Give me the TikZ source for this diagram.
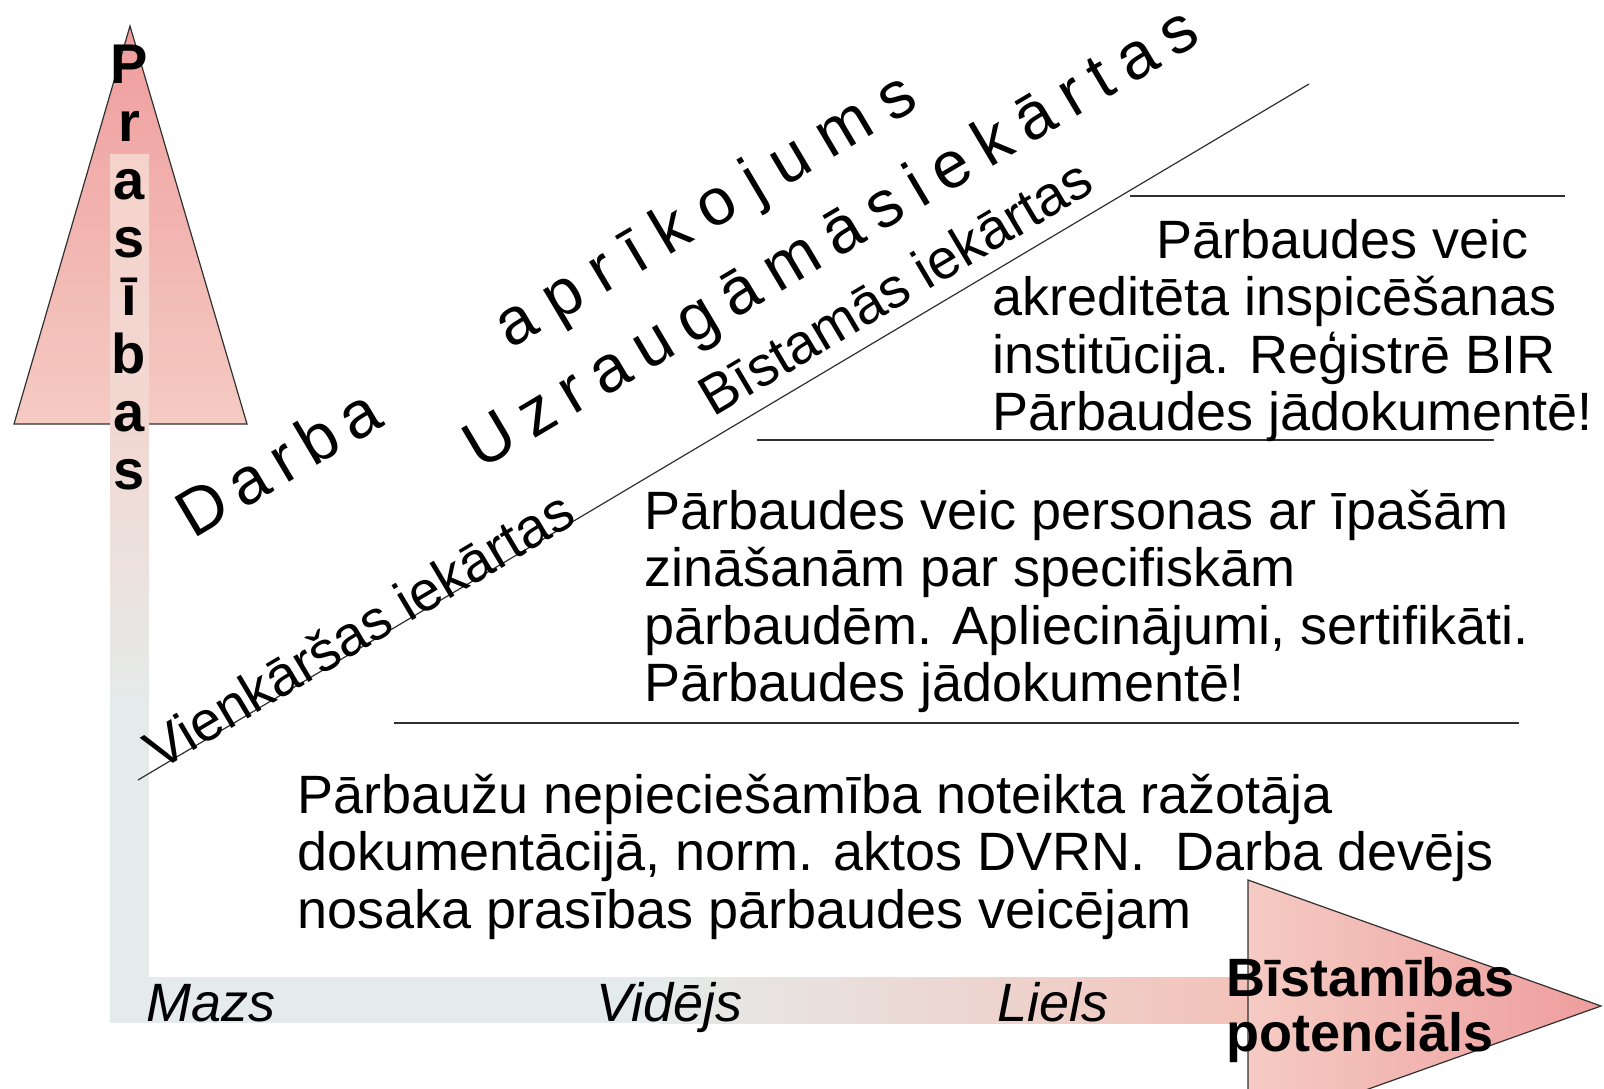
\documentclass[tikz,border=0pt]{standalone}
\usepackage{fontspec}
\setmainfont{Liberation Sans}
\newfontfamily\spacedA[LetterSpace=17]{Liberation Sans}
\newfontfamily\spacedB[LetterSpace=26]{Liberation Sans}
\newfontfamily\spacedC[LetterSpace=21]{Liberation Sans}
\definecolor{pkdark}{HTML}{EE9D9D}
\definecolor{pklight}{HTML}{F5CBC3}
\definecolor{pkbar}{HTML}{F5D3CB}
\definecolor{pkmid}{HTML}{F2D8D2}
\definecolor{greyl}{HTML}{E5EBEA}
\definecolor{pkend}{HTML}{F3C2B9}
\definecolor{edge}{HTML}{303030}
\begin{document}
\begin{tikzpicture}[x=1pt,y=-1pt,
  body/.style={font=\fontsize{54}{57}\selectfont, inner sep=0pt, anchor=base west},
  ital/.style={font=\fontsize{54}{57}\selectfont\itshape, inner sep=0pt, anchor=base west},
  boldt/.style={font=\fontsize{54}{57}\selectfont\bfseries, inner sep=0pt, anchor=base west},
  prasl/.style={font=\fontsize{56}{58}\selectfont\bfseries, inner sep=0pt, anchor=base},
  bigA/.style={font=\spacedA\fontsize{66}{70}\selectfont, inner sep=0pt, anchor=base, rotate=30.7},
  bigB/.style={font=\spacedB\fontsize{66}{70}\selectfont, inner sep=0pt, anchor=base, rotate=30.7},
  bigC/.style={font=\spacedC\fontsize{66}{70}\selectfont, inner sep=0pt, anchor=base, rotate=30.7},
  slant/.style={font=\fontsize{56}{60}\selectfont, inner sep=0pt, anchor=base, rotate=30.7},
  rule/.style={draw=edge, line width=1.6pt},
  outline/.style={draw=edge, line width=1.2pt}]
\useasboundingbox (0,0) rectangle (1604,1089);

% upward arrow head
\shadedraw[outline, top color=pkdark, bottom color=pklight] (130,26) -- (247,424) -- (14,424) -- cycle;
% vertical bar
\shade[top color=pkbar, bottom color=pkmid] (110,155) rectangle (149,430);
\shade[top color=pkmid, bottom color=greyl] (110,430) rectangle (149,700);
\fill[greyl] (110,700) rectangle (149,1023);
% horizontal bar
\fill[greyl] (110,977) rectangle (660,1023);
\shade[left color=greyl, right color=pkend] (660,977) rectangle (1249,1023);
% right arrow head
\shadedraw[outline, left color=pklight, right color=pkdark] (1248,880) -- (1601,1006) -- (1248,1132) -- cycle;

% Prasības
\foreach \ch [count=\i] in {P,r,a,s,ī,b,a,s}
  \node[prasl] (pr\i) at (129,{84+57.9*(\i-1)}) {\ch};

% diagonal
\coordinate (d1) at (138,780);
\coordinate (d2) at (1309,84);
\draw[edge, line width=1.2pt] (d1) -- (d2);

% horizontal rules
\coordinate (h1a) at (1130,196); \coordinate (h1b) at (1565,196);
\coordinate (h2a) at (757,440);  \coordinate (h2b) at (1494,440);
\coordinate (h3a) at (394,723);  \coordinate (h3b) at (1519,723);
\draw[rule] (h1a) -- (h1b);
\draw[rule] (h2a) -- (h2b);
\draw[rule] (h3a) -- (h3b);

% rotated labels
\node[bigA] (darba) at (290,482) {Darba};
\node[bigB] (aprik) at (716,228) {aprīkojums};
\node[bigC] (uzr) at (842,256) {Uzraugāmāsiekārtas};
\node[slant] (bist) at (905,304) {Bīstamās iekārtas};
\node[slant] (vienk) at (369,647) {Vienkāršas iekārtas};

% top right block
\node[body] (t1) at (1156,258) {Pārbaudes veic};
\node[body] (t2) at (992,315) {akreditēta inspicēšanas};
\node[body] (t3) at (992,373) {institūcija. Reģistrē BIR};
\node[body] (t4) at (992,430) {Pārbaudes jādokumentē!};

% middle block
\node[body] (m1) at (644,529) {Pārbaudes veic personas ar īpašām};
\node[body] (m2) at (644,586) {zināšanām par specifiskām};
\node[body] (m3) at (644,644) {pārbaudēm. Apliecinājumi, sertifikāti.};
\node[body] (m4) at (644,701) {Pārbaudes jādokumentē!};

% bottom block
\node[body] (b1) at (297,813) {Pārbaužu nepieciešamība noteikta ražotāja};
\node[body] (b2) at (297,870) {dokumentācijā, norm. aktos DVRN.\ \ Darba devējs};
\node[body] (b3) at (297,928) {nosaka prasības pārbaudes veicējam};

% axis labels
\node[ital] (mazs) at (146,1021) {Mazs};
\node[ital] (vid) at (596,1021) {Vidējs};
\node[ital] (liels) at (997,1021) {Liels};
\node[boldt] (bp1) at (1226,996) {Bīstamības};
\node[boldt] (bp2) at (1226,1051) {potenciāls};
\end{tikzpicture}
\end{document}
